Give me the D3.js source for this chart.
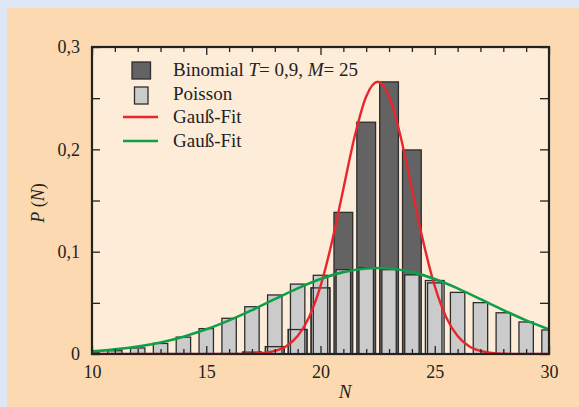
<!DOCTYPE html>
<html><head><meta charset="utf-8">
<script src="https://cdn.jsdelivr.net/npm/d3@7"></script>
<style>body{margin:0;background:#dfe6f5;overflow:hidden}svg{display:block}</style>
</head><body><svg id="c" width="579" height="407"></svg>
<script>
// ---- data ----
const nValues   = [10,11,12,13,14,15,16,17,18,19,20,21,22,23,24,25,26,27,28,29,30];
const binomial  = [0,0,0,0,0,0.0001,0.0004,0.0018,0.0072,0.0239,0.0646,0.1384,0.2265,0.2659,0.1994,0.0718,0,0,0,0,0];
const poisson   = [0.0016,0.0032,0.0059,0.0103,0.0165,0.0248,0.0349,0.0462,0.0577,0.0683,0.0769,0.0824,0.0843,0.0824,0.0773,0.0695,0.0602,0.0502,0.0403,0.0313,0.0235];
const gaussBinX = [10,12,14,15,16,16.5,17,17.5,18,18.5,19,19.5,20,20.5,21,21.5,22,22.5,23,23.5,24,24.5,25,25.5,26,26.5,27,27.5,28,28.5,29,30];
const gaussBinY = [0,0,0,0,0.00002,0.00009,0.0003,0.001,0.003,0.0076,0.0175,0.036,0.0663,0.1094,0.1613,0.213,0.2516,0.266,0.2516,0.213,0.1613,0.1094,0.0663,0.036,0.0175,0.0076,0.003,0.001,0.0003,0.00009,0.00002,0];
const gaussPoiX = [10,11,12,13,14,15,16,17,18,19,20,21,22,22.5,23,24,25,26,27,28,29,30];
const gaussPoiY = [0.0026,0.0045,0.0073,0.0113,0.0169,0.0241,0.0329,0.0429,0.0536,0.0641,0.0732,0.08,0.0836,0.0841,0.0836,0.08,0.0732,0.0641,0.0536,0.0429,0.0329,0.0241];
const xMajorTicks = [10,15,20,25,30];
const yMajorTicks = [0,0.1,0.2,0.3];
const yTickLabels = ["0","0,1","0,2","0,3"];
const legendItems = ["Binomial", "Poisson", "Gauß-Fit", "Gauß-Fit"];

// ---- layout ----
const L = 92, R = 549, T = 47, B = 354;
const svg = d3.select("#c");
const serif = "'Liberation Serif','DejaVu Serif',serif";
const colDark = "#636363", colLight = "#cbcbcb", colEdge = "#2d2d2d";
const colRed = "#e8262c", colGreen = "#0e9f48";

svg.append("rect").attr("x",7).attr("y",8).attr("width",572).attr("height",399).attr("fill","#fcd9b1");
svg.append("rect").attr("x",L).attr("y",T).attr("width",R-L).attr("height",B-T).attr("fill","#fdecd8");

const x = d3.scaleLinear().domain([10,30]).range([L,R]);
const y = d3.scaleLinear().domain([0,0.3]).range([B,T]);
const unit = x(11)-x(10);

svg.append("clipPath").attr("id","clip").append("rect").attr("x",L).attr("y",T-5).attr("width",R-L).attr("height",B-T+5);
const g = svg.append("g").attr("clip-path","url(#clip)");

const rows = nValues.map((n,i)=>({n, b:binomial[i], p:poisson[i]}));
const wB = unit*0.82, wP = unit*0.63;

g.selectAll("rect.bf").data(rows.filter(d=>d.b>0)).join("rect")
  .attr("x",d=>x(d.n)-wB/2).attr("width",wB)
  .attr("y",d=>y(d.b)).attr("height",d=>B-y(d.b))
  .attr("fill",d=>d.b>d.p+0.02?colDark:colLight)
  .attr("stroke",colEdge).attr("stroke-width",1.3);
g.selectAll("rect.pf").data(rows).join("rect")
  .attr("x",d=>x(d.n)-wP/2).attr("width",wP)
  .attr("y",d=>y(d.p)).attr("height",d=>B-y(d.p))
  .attr("fill",colLight).attr("stroke",colEdge).attr("stroke-width",1.3);
g.selectAll("rect.bo").data(rows.filter(d=>d.b>0 && d.b<d.p)).join("rect")
  .attr("x",d=>x(d.n)-wB/2).attr("width",wB)
  .attr("y",d=>y(d.b)).attr("height",d=>B-y(d.b))
  .attr("fill","none").attr("stroke",colEdge).attr("stroke-width",1.3);

const line = d3.line().x(d=>x(d[0])).y(d=>y(d[1])).curve(d3.curveMonotoneX);
g.append("path").attr("d",line(gaussBinX.map((v,i)=>[v,gaussBinY[i]])))
  .attr("fill","none").attr("stroke",colRed).attr("stroke-width",2.4);
g.append("path").attr("d",line(gaussPoiX.map((v,i)=>[v,gaussPoiY[i]])))
  .attr("fill","none").attr("stroke",colGreen).attr("stroke-width",2.6);

// ---- axes ----
const allN = d3.range(10,31);
const minorN = allN.filter(n=>n%5!==0);
const yMinor = [0.05,0.15,0.25];
function styleAxis(sel){ sel.select(".domain").remove(); sel.selectAll("line").attr("stroke","#222").attr("stroke-width",1.3);
  sel.selectAll("text").attr("font-family",serif).attr("font-size",18).attr("fill","#222"); }
svg.append("g").attr("transform",`translate(0,${B})`).call(d3.axisBottom(x).tickValues(minorN).tickSize(-5).tickFormat("")).call(styleAxis);
svg.append("g").attr("transform",`translate(0,${B})`).call(d3.axisBottom(x).tickValues(xMajorTicks).tickSize(-8).tickPadding(11).tickFormat(d3.format("d"))).call(styleAxis);
svg.append("g").attr("transform",`translate(0,${T})`).call(d3.axisTop(x).tickValues(minorN).tickSize(-5).tickFormat("")).call(styleAxis);
svg.append("g").attr("transform",`translate(0,${T})`).call(d3.axisTop(x).tickValues(xMajorTicks).tickSize(-8).tickFormat("")).call(styleAxis);
svg.append("g").attr("transform",`translate(${L},0)`).call(d3.axisLeft(y).tickValues(yMajorTicks).tickSize(-8).tickPadding(12).tickFormat((d,i)=>yTickLabels[i])).call(styleAxis);
svg.append("g").attr("transform",`translate(${L},0)`).call(d3.axisLeft(y).tickValues(yMinor).tickSize(-8).tickFormat("")).call(styleAxis);
svg.append("g").attr("transform",`translate(${R},0)`).call(d3.axisRight(y).tickValues(yMajorTicks.concat(yMinor)).tickSize(-9).tickFormat("")).call(styleAxis);

svg.append("rect").attr("x",L).attr("y",T).attr("width",R-L).attr("height",B-T)
  .attr("fill","none").attr("stroke","#222").attr("stroke-width",2.2);

svg.append("text").attr("x",345).attr("y",398).attr("text-anchor","middle")
  .attr("font-family",serif).attr("font-size",19).attr("font-style","italic").attr("fill","#222").text("N");
const yl = svg.append("text").attr("transform","translate(44,203) rotate(-90)").attr("text-anchor","middle")
  .attr("font-family",serif).attr("font-size",18).attr("fill","#222");
yl.append("tspan").attr("font-style","italic").text("P");
yl.append("tspan").text(" (");
yl.append("tspan").attr("font-style","italic").text("N");
yl.append("tspan").text(")");

// ---- legend ----
const lg = svg.append("g").attr("font-family",serif).attr("font-size",19).attr("fill","#222");
const rowY = [76, 100, 123, 147];
lg.append("rect").attr("x",132).attr("y",62).attr("width",18.5).attr("height",17).attr("fill",colDark).attr("stroke",colEdge).attr("stroke-width",1.3);
lg.append("rect").attr("x",134.5).attr("y",87).attr("width",13.5).attr("height",17).attr("fill",colLight).attr("stroke",colEdge).attr("stroke-width",1.3);
lg.append("line").attr("x1",123).attr("x2",158).attr("y1",117).attr("y2",117).attr("stroke",colRed).attr("stroke-width",2.4);
lg.append("line").attr("x1",123).attr("x2",158).attr("y1",141).attr("y2",141).attr("stroke",colGreen).attr("stroke-width",2.6);
const t0 = lg.append("text").attr("x",173).attr("y",rowY[0]);
t0.append("tspan").text(legendItems[0]+" ");
t0.append("tspan").attr("font-style","italic").text("T");
t0.append("tspan").text("= 0,9, ");
t0.append("tspan").attr("font-style","italic").text("M");
t0.append("tspan").text("= 25");
for (let i=1;i<4;i++) lg.append("text").attr("x",173).attr("y",rowY[i]).text(legendItems[i]);
</script></body></html>
